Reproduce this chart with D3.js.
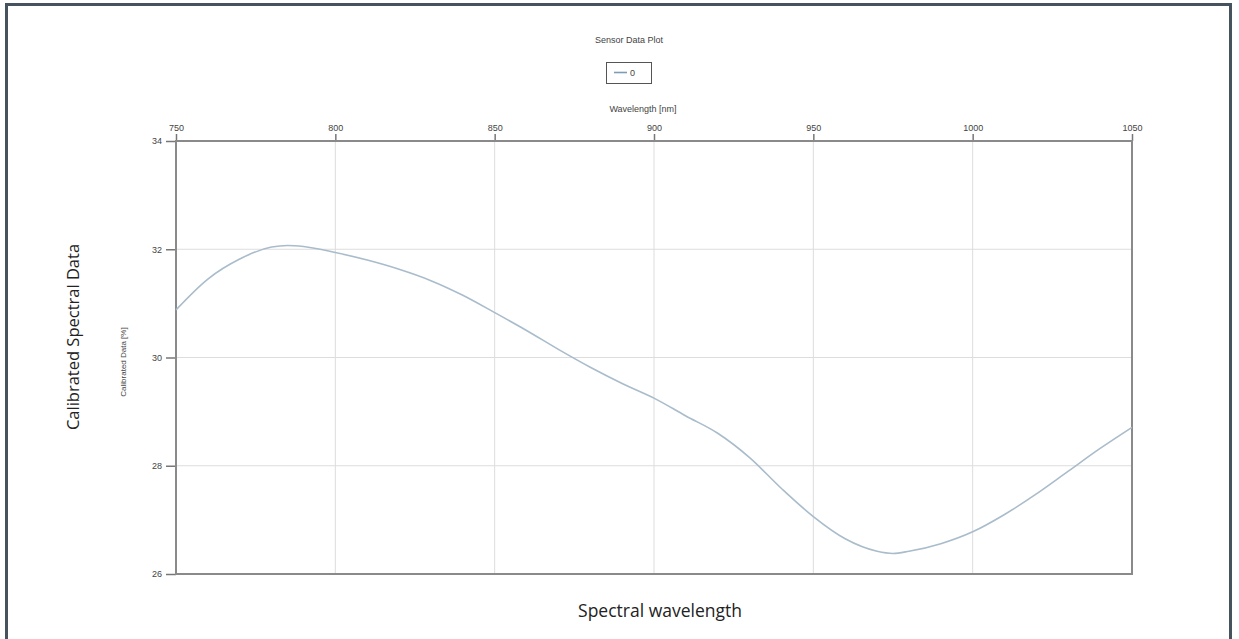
<!DOCTYPE html>
<html>
<head>
<meta charset="utf-8">
<script src="https://cdn.jsdelivr.net/npm/d3@7"></script>
<style>
html,body{margin:0;padding:0;background:#fff;}
svg{display:block;}
</style>
</head>
<body>
<svg id="chart" width="1239" height="639"></svg>
<script>
// ---- data ----
const wavelengths = [750,760,770,780,785,790,800,810,820,830,840,850,860,870,880,890,900,910,920,930,940,950,960,970,975,980,990,1000,1010,1020,1030,1040,1050];
const calibrated = [30.88,31.45,31.82,32.04,32.07,32.05,31.94,31.80,31.63,31.42,31.15,30.83,30.50,30.15,29.82,29.52,29.25,28.92,28.60,28.15,27.58,27.06,26.65,26.42,26.38,26.42,26.56,26.78,27.10,27.48,27.90,28.32,28.71];
const xTicks = [750,800,850,900,950,1000,1050];
const yTicks = [26,28,30,32,34];
const seriesName = "0";

(function(){
const svg = d3.select("#chart");
const W = 1239, H = 639;
const pL = 176, pR = 1132, pT = 141, pB = 574;

// outer frame
svg.append("path")
  .attr("d", `M6.5,${H} L6.5,4.5 L1230.5,4.5 L1230.5,${H}`)
  .attr("fill","none").attr("stroke","#46525d").attr("stroke-width",3);

const x = d3.scaleLinear().domain([750,1050]).range([pL,pR]);
const y = d3.scaleLinear().domain([26,34]).range([pB,pT]);

// gridlines
svg.append("g").selectAll("line").data(xTicks.slice(1,-1)).join("line")
  .attr("x1",d=>x(d)).attr("x2",d=>x(d)).attr("y1",pT).attr("y2",pB)
  .attr("stroke","#dddddd").attr("stroke-width",1);
svg.append("g").selectAll("line").data(yTicks.slice(1,-1)).join("line")
  .attr("y1",d=>y(d)).attr("y2",d=>y(d)).attr("x1",pL).attr("x2",pR)
  .attr("stroke","#dddddd").attr("stroke-width",1);

// axes
const font = "'Liberation Sans', Arial, sans-serif";
const xAxis = svg.append("g").attr("transform",`translate(0,${pT})`)
  .call(d3.axisTop(x).tickValues(xTicks).tickSize(7).tickPadding(3).tickFormat(d3.format("d")));
const yAxis = svg.append("g").attr("transform",`translate(${pL},0)`)
  .call(d3.axisLeft(y).tickValues(yTicks).tickSize(10).tickPadding(4).tickFormat(d3.format("d")));
[xAxis,yAxis].forEach(a=>{
  a.select(".domain").remove();
  a.selectAll("line").attr("stroke","#777").attr("stroke-width",1.5);
  a.selectAll("text").attr("font-family",font).attr("font-size",9).attr("fill","#444");
});

// plot frame
svg.append("rect").attr("x",pL).attr("y",pT).attr("width",pR-pL).attr("height",pB-pT)
  .attr("fill","none").attr("stroke","#8a8a8a").attr("stroke-width",2);

// curve
const line = d3.line().x((d,i)=>x(wavelengths[i])).y(d=>y(d)).curve(d3.curveMonotoneX);
svg.append("path").datum(calibrated).attr("d",line)
  .attr("fill","none").attr("stroke","#a9bccb").attr("stroke-width",1.6);

// titles
svg.append("text").attr("x",629).attr("y",43).attr("text-anchor","middle")
  .attr("font-family",font).attr("font-size",9).attr("fill","#444").text("Sensor Data Plot");
svg.append("text").attr("x",643).attr("y",112).attr("text-anchor","middle")
  .attr("font-family",font).attr("font-size",9).attr("fill","#444").text("Wavelength [nm]");
svg.append("text").attr("transform","translate(126,362) rotate(-90)").attr("text-anchor","middle")
  .attr("font-family",font).attr("font-size",8).attr("fill","#444").text("Calibrated Data [%]");

// legend
const lg = svg.append("g");
lg.append("rect").attr("x",606.5).attr("y",62.5).attr("width",45).attr("height",21)
  .attr("fill","#fff").attr("stroke","#555").attr("stroke-width",1);
lg.append("line").attr("x1",614).attr("x2",627).attr("y1",72.5).attr("y2",72.5)
  .attr("stroke","#7f9cb5").attr("stroke-width",1.6);
lg.append("text").attr("x",630).attr("y",76).attr("font-family",font).attr("font-size",9)
  .attr("fill","#444").text(seriesName);

// big outer labels
const big = "'Open Sans', 'Noto Sans', sans-serif";
svg.append("text").attr("transform","translate(79,337) rotate(-90)").attr("text-anchor","middle")
  .attr("font-family",big).attr("font-size",16.5).attr("fill","#222").text("Calibrated Spectral Data");
svg.append("text").attr("x",660).attr("y",617).attr("text-anchor","middle")
  .attr("font-family",big).attr("font-size",17.5).attr("fill","#222").text("Spectral wavelength");
})();
</script>
</body>
</html>
